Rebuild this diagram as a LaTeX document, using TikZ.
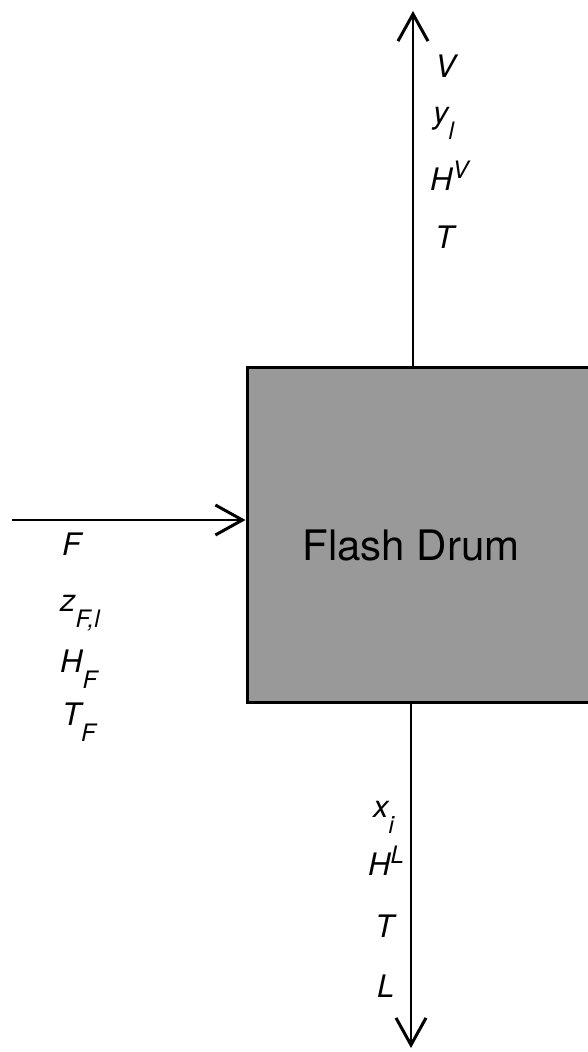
\documentclass[tikz,border=0pt]{standalone}
\usepackage{fontspec}
\setmainfont{TeX Gyre Heros}
\usetikzlibrary{arrows.meta, positioning}
\newcommand{\lowidx}[1]{\raisebox{-16pt}{\fontsize{24}{28}\selectfont #1}}
\newcommand{\highidx}[1]{\raisebox{12pt}{\fontsize{24}{28}\selectfont #1}}

\begin{document}
\begin{tikzpicture}[
  x=1pt, y=-1pt,
  vessel/.style={rectangle, draw, line width=3pt, fill=black!40, minimum width=360pt, minimum height=335pt, inner sep=0pt},
  stream/.style={line width=1.6pt, -{Straight Barb[length=27pt, width=30pt, line width=3pt]}},
  var/.style={anchor=base west, inner sep=0pt, font=\fontsize{31}{36}\selectfont\itshape},
]
  \clip (0,0) rectangle (588,1052);

  % Flash drum
  \node[vessel] (drum) at (427,534.5) {};
  \node[font=\fontsize{42}{48}\selectfont] (drumname) at (411,545) {Flash Drum};

  % Stream ends
  \coordinate (vapour) at (413,11);
  \coordinate (feed) at (12,520);
  \coordinate (liquid) at (411,1048);

  % Streams
  \draw[stream] (vapour |- drum.north) -- (vapour);
  \draw[stream] (feed) -- (feed -| drum.west);
  \draw[stream] (liquid |- drum.south) -- (liquid);

  % Vapour variables
  \node[var] (vflow) at (435,77) {V};
  \node[var] (vcomp) at (433,123) {y\lowidx{l}};
  \node[var] (venth) at (430,190) {H\highidx{V}};
  \node[var] (vtemp) at (435,248) {T};

  % Feed variables
  \node[var] (fflow) at (62,555) {F};
  \node[var] (fcomp) at (60,611) {z\lowidx{F,l}};
  \node[var] (fenth) at (60,672) {H\lowidx{F}};
  \node[var] (ftemp) at (62,725) {T\lowidx{F}};

  % Liquid variables
  \node[var] (lcomp) at (373,817) {x\lowidx{i}};
  \node[var] (lenth) at (368,875) {H\highidx{L}};
  \node[var] (ltemp) at (375,937) {T};
  \node[var] (lflow) at (377,997) {L};
\end{tikzpicture}
\end{document}
